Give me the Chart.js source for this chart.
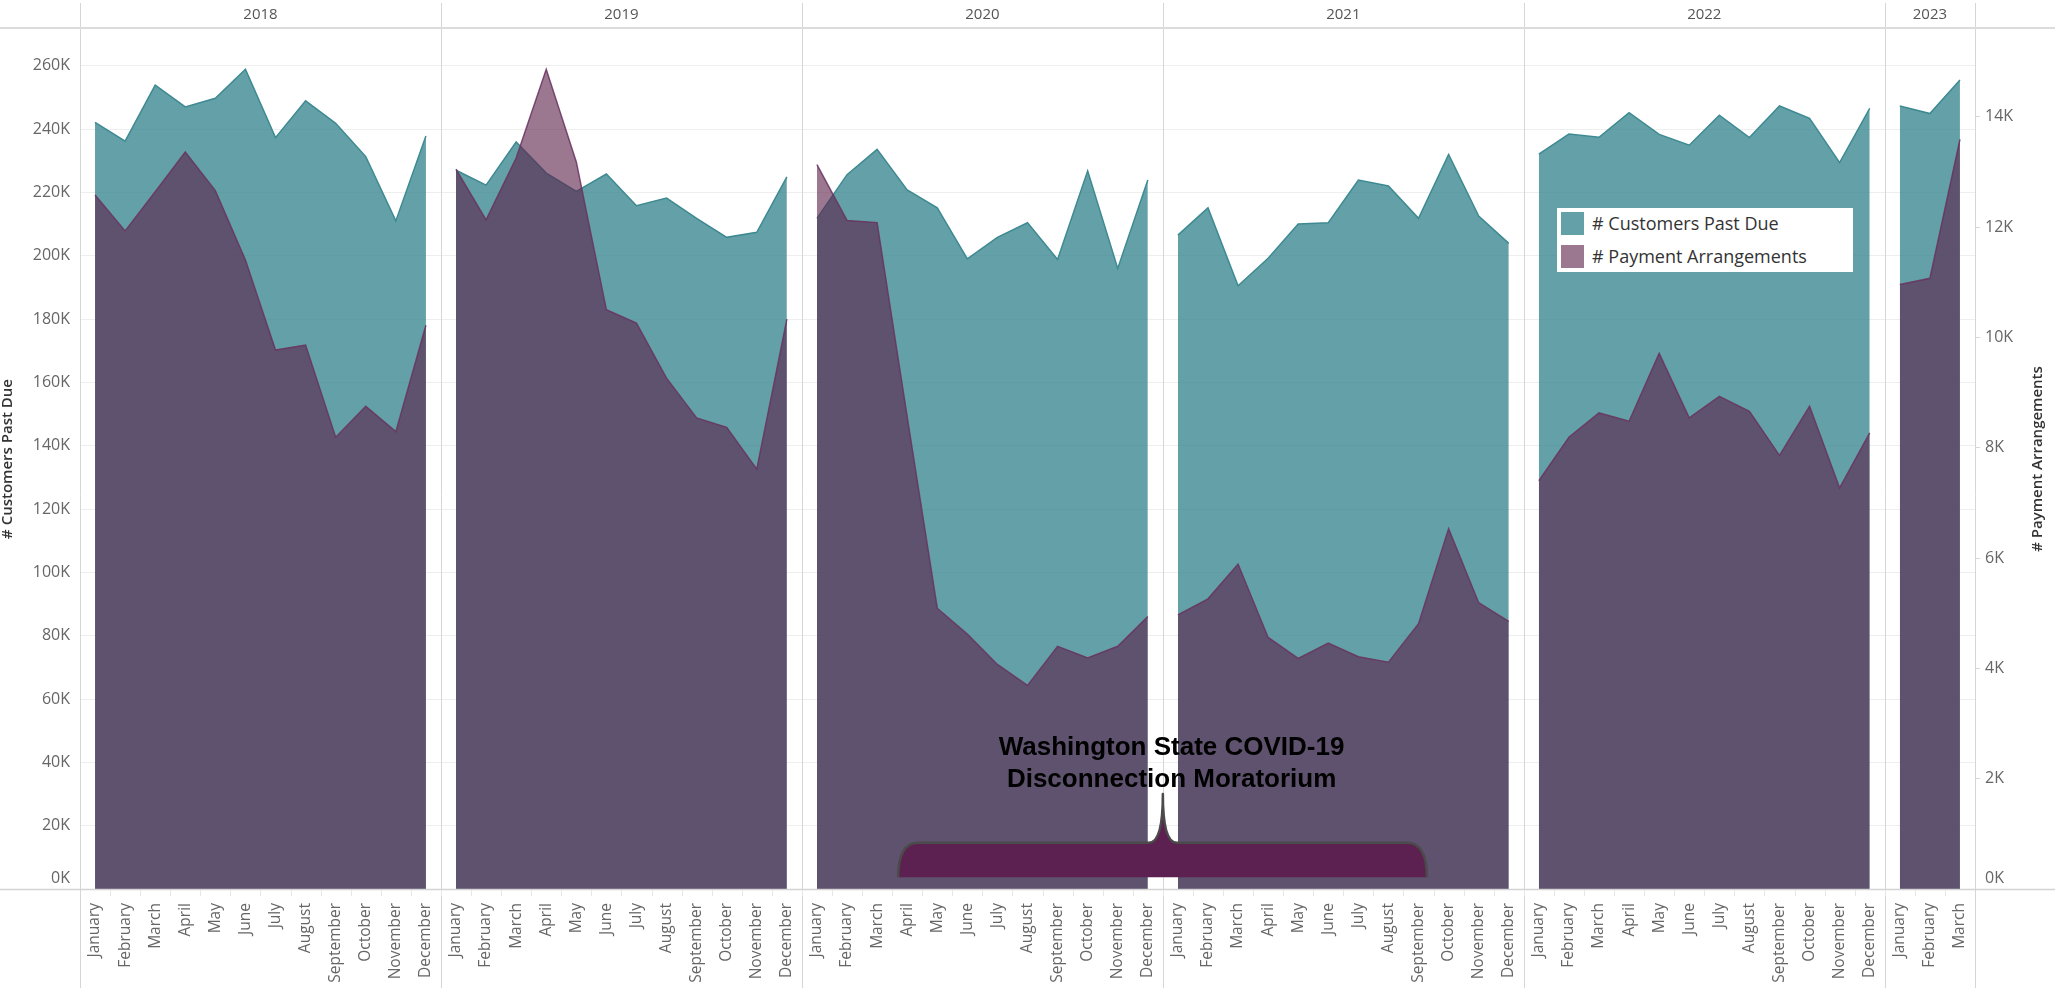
<!DOCTYPE html>
<html><head><meta charset="utf-8">
<script src="https://cdn.jsdelivr.net/npm/chart.js@4.4.1/dist/chart.umd.min.js"></script>
<style>
html,body{margin:0;padding:0;background:#fff;}
#wrap{position:relative;width:2055px;height:988px;}
#legend{position:absolute;left:1557px;top:208px;width:296px;height:64px;background:#fff;font-family:'Open Sans',sans-serif;font-size:18px;color:#333;}
.item{position:absolute;left:4px;height:23px;display:flex;align-items:center;white-space:nowrap;}
.sw{display:inline-block;width:23px;height:23px;margin-right:8px;}
</style></head><body>
<div id="wrap"><canvas id="c" width="2055" height="988"></canvas><div id="legend"></div></div>
<script>
// ---------- data ----------
const months = ['January','February','March','April','May','June','July','August','September','October','November','December'];
const years = ['2018','2019','2020','2021','2022','2023'];
const seriesNames = ['# Customers Past Due', '# Payment Arrangements'];

const pastDue2018 = [242100, 236200, 253900, 247000, 249700, 258900, 237300, 248900, 241800, 231300, 211000, 237800];
const pastDue2019 = [227000, 222300, 235900, 226100, 220300, 225800, 215800, 218200, 211800, 205800, 207400, 224900];
const pastDue2020 = [211800, 225600, 233600, 220800, 215100, 199000, 205800, 210400, 198800, 226800, 196000, 223900];
const pastDue2021 = [206500, 215100, 190500, 199200, 210000, 210400, 223900, 222000, 211800, 232000, 212500, 203900];
const pastDue2022 = [232100, 238400, 237400, 245200, 238300, 234900, 244400, 237300, 247300, 243400, 229400, 246500];
const pastDue2023 = [247300, 244900, 255500];

const arrangements2018 = [12580, 11930, 12640, 13360, 12660, 11400, 9770, 9860, 8190, 8750, 8290, 10220];
const arrangements2019 = [13050, 12130, 13250, 14860, 13180, 10500, 10260, 9260, 8540, 8370, 7610, 10330];
const arrangements2020 = [13130, 12120, 12080, 8560, 5090, 4620, 4070, 3690, 4400, 4190, 4400, 4940];
const arrangements2021 = [4970, 5260, 5890, 4560, 4180, 4460, 4210, 4110, 4810, 6530, 5190, 4850];
const arrangements2022 = [7400, 8190, 8630, 8480, 9710, 8540, 8930, 8660, 7860, 8750, 7270, 8270];
const arrangements2023 = [10960, 11070, 13590];

const leftTickValues = [0, 20000, 40000, 60000, 80000, 100000, 120000, 140000, 160000, 180000, 200000, 220000, 240000, 260000];
const rightTickValues = [0, 2000, 4000, 6000, 8000, 10000, 12000, 14000];

// annotation text
const annotationLines = ['Washington State COVID-19', 'Disconnection Moratorium'];

// ---------- build ----------
const pastDueByYear = [pastDue2018, pastDue2019, pastDue2020, pastDue2021, pastDue2022, pastDue2023];
const arrangementsByYear = [arrangements2018, arrangements2019, arrangements2020, arrangements2021, arrangements2022, arrangements2023];

const monthLabels = [];
const panelEdges = [-0.5];
pastDueByYear.forEach(arr => {
  arr.forEach((v, m) => monthLabels.push(months[m]));
  panelEdges.push(monthLabels.length - 0.5);
});
function toPoints(byYear) {
  const pts = []; let i = 0;
  byYear.forEach((arr, yi) => {
    if (yi > 0) pts.push({x: i - 0.5, y: null});
    arr.forEach(v => { pts.push({x: i, y: v}); i++; });
  });
  return pts;
}
const tickIdx = monthLabels.map((_, i) => i);

const tealFill = 'rgba(48,128,138,0.75)';
const tealLine = 'rgb(62,138,146)';
const purpleFill = 'rgba(94,36,76,0.62)';
const purpleLine = 'rgba(105,50,95,0.85)';
const labelFont = "'Open Sans', sans-serif";

// legend (HTML)
const legendEl = document.getElementById('legend');
[[seriesNames[0], '#64a0a7', 3.5], [seriesNames[1], '#9b7790', 36.5]].forEach(([name, col, top]) => {
  const d = document.createElement('div'); d.className = 'item'; d.style.top = top + 'px';
  const s = document.createElement('span'); s.className = 'sw'; s.style.background = col;
  d.appendChild(s); d.appendChild(document.createTextNode(name));
  legendEl.appendChild(d);
});

// moratorium annotation (positions in month-index / left-axis units)
const brace = { from: 26.7, to: 44.28, mid: 35.5, top: 14600, bottom: 3700, peak: 30000, textX: 35.79, textY: [42300, 32300] };

const framePlugin = {
  id: 'frame',
  beforeDatasetsDraw(chart) {
    const {ctx, chartArea: ca, scales: {x}} = chart;
    ctx.save();
    ctx.strokeStyle = '#d6d6d6'; ctx.lineWidth = 1;
    panelEdges.forEach(e => {
      const px = Math.round(x.getPixelForValue(e)) + 0.5;
      ctx.beginPath(); ctx.moveTo(px, 3); ctx.lineTo(px, chart.height); ctx.stroke();
    });
    ctx.strokeStyle = '#dcdcdc'; ctx.lineWidth = 2;
    ctx.beginPath(); ctx.moveTo(0, ca.top - 1); ctx.lineTo(chart.width, ca.top - 1); ctx.stroke();
    ctx.fillStyle = '#555'; ctx.font = "15px " + labelFont; ctx.textAlign = 'center'; ctx.textBaseline = 'middle';
    years.forEach((yr, i) => {
      ctx.fillText(yr, x.getPixelForValue((panelEdges[i] + panelEdges[i + 1]) / 2), 15);
    });
    ctx.restore();
  },
  afterDatasetsDraw(chart) {
    const {ctx, chartArea: ca, scales: {x, y}} = chart;
    ctx.save();
    // baseline
    ctx.strokeStyle = '#d3d3d3'; ctx.lineWidth = 1.5;
    ctx.beginPath(); ctx.moveTo(0, ca.bottom + 0.5); ctx.lineTo(chart.width, ca.bottom + 0.5); ctx.stroke();
    // month separators
    ctx.strokeStyle = '#e6e6e6'; ctx.lineWidth = 1;
    for (let i = 0; i < monthLabels.length - 1; i++) {
      const px = Math.round(x.getPixelForValue(i + 0.5)) + 0.5;
      ctx.beginPath(); ctx.moveTo(px, ca.bottom + 1); ctx.lineTo(px, ca.bottom + 7); ctx.stroke();
    }
    // brace
    const xL = x.getPixelForValue(brace.from), xR = x.getPixelForValue(brace.to), xM = x.getPixelForValue(brace.mid);
    const yT = y.getPixelForValue(brace.top), yB = y.getPixelForValue(brace.bottom), yP = y.getPixelForValue(brace.peak);
    ctx.beginPath();
    ctx.moveTo(xL, yB);
    ctx.quadraticCurveTo(xL, yT, xL + 20, yT);
    ctx.lineTo(xM - 14, yT);
    ctx.quadraticCurveTo(xM, yT, xM, yP);
    ctx.quadraticCurveTo(xM, yT, xM + 14, yT);
    ctx.lineTo(xR - 20, yT);
    ctx.quadraticCurveTo(xR, yT, xR, yB);
    ctx.fillStyle = '#5c2150';
    ctx.fill();
    ctx.strokeStyle = '#4b4b4b'; ctx.lineWidth = 2.5; ctx.lineJoin = 'round';
    ctx.stroke();
    // text
    ctx.fillStyle = '#000'; ctx.font = "bold 26px 'Liberation Sans', Arial, sans-serif";
    ctx.textAlign = 'center'; ctx.textBaseline = 'alphabetic';
    annotationLines.forEach((t, i) => ctx.fillText(t, x.getPixelForValue(brace.textX), y.getPixelForValue(brace.textY[i])));
    // axis titles
    ctx.fillStyle = '#333'; ctx.font = "600 15px " + labelFont; ctx.textBaseline = 'middle';
    const cy = (ca.top + ca.bottom) / 2;
    [[8, seriesNames[0]], [2038, seriesNames[1]]].forEach(([tx, t]) => {
      ctx.save(); ctx.translate(tx, cy); ctx.rotate(-Math.PI / 2); ctx.fillText(t, 0, 0); ctx.restore();
    });
    ctx.restore();
  }
};

const kLabel = v => v === 0 ? ['0K', ''] : (v / 1000) + 'K';
const tickFont = ctx => ({family: labelFont, size: 16, lineHeight: ctx.tick && ctx.tick.value === 0 ? 1.35 : 1.2});

new Chart(document.getElementById('c'), {
  type: 'line',
  data: {
    datasets: [
      { label: seriesNames[1], data: toPoints(arrangementsByYear), yAxisID: 'y2', order: 0,
        fill: 'origin', backgroundColor: purpleFill, borderColor: purpleLine, borderWidth: 1.5,
        pointRadius: 0, tension: 0, spanGaps: false },
      { label: seriesNames[0], data: toPoints(pastDueByYear), yAxisID: 'y', order: 1,
        fill: 'origin', backgroundColor: tealFill, borderColor: tealLine, borderWidth: 1.5,
        pointRadius: 0, tension: 0, spanGaps: false }
    ]
  },
  options: {
    responsive: false, animation: false,
    layout: { padding: { top: 29, left: 0, right: 0, bottom: 0 } },
    plugins: { legend: { display: false }, tooltip: { enabled: false } },
    scales: {
      x: {
        type: 'linear', min: -0.5, max: monthLabels.length - 0.5,
        afterBuildTicks: s => { s.ticks = tickIdx.map(v => ({ value: v })); },
        afterFit: s => { s.height = 99; },
        ticks: { autoSkip: false, minRotation: 90, maxRotation: 90, padding: 6, color: '#666',
          font: { family: labelFont, size: 15.5 }, callback: v => monthLabels[v] },
        grid: { display: false }, border: { display: false }
      },
      y: {
        position: 'left', min: 0, max: 271600,
        afterBuildTicks: s => { s.ticks = leftTickValues.map(v => ({ value: v })); },
        afterFit: s => { s.width = 80; },
        ticks: { autoSkip: false, padding: 10, color: '#666', font: tickFont, callback: kLabel },
        grid: { color: '#eeeeee', drawTicks: false }, border: { display: false }
      },
      y2: {
        position: 'right', min: 0, max: 15590,
        afterBuildTicks: s => { s.ticks = rightTickValues.map(v => ({ value: v })); },
        afterFit: s => { s.width = 80; },
        ticks: { autoSkip: false, padding: 5, color: '#666', font: tickFont, callback: kLabel },
        grid: { drawOnChartArea: false, tickLength: 5, color: '#d8d8d8' }, border: { display: false }
      }
    }
  },
  plugins: [framePlugin]
});
</script>
</body></html>
